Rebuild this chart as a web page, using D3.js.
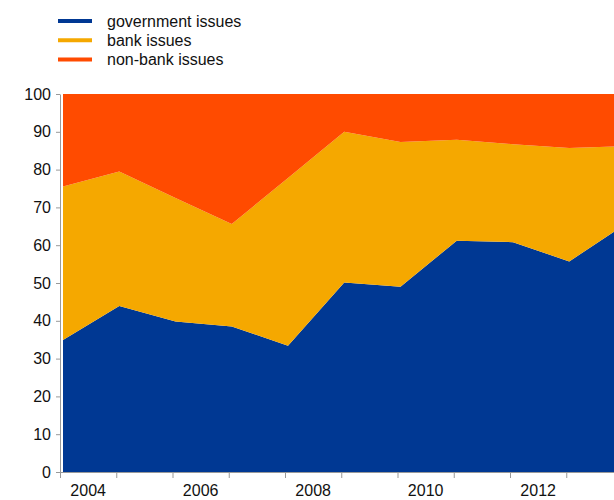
<!DOCTYPE html>
<html>
<head>
<meta charset="utf-8">
<script src="https://cdn.jsdelivr.net/npm/d3@7"></script>
<style>
  html, body { margin: 0; padding: 0; background: #fff; }
  svg { display: block; font-family: "Liberation Sans", Arial, sans-serif; }
</style>
</head>
<body>
<svg id="chart" width="614" height="500"></svg>
<script>
// ---- data ----
const periods = [2004, 2005, 2006, 2007, 2008, 2009, 2010, 2011, 2012, 2013, 2014];
const governmentIssues = [34.9, 43.9, 39.8, 38.5, 33.4, 50.1, 49.0, 61.2, 60.8, 55.7, 65.6];
const bankIssues       = [40.6, 35.6, 32.7, 27.1, 44.4, 39.9, 38.3, 26.7, 25.9, 30.0, 20.6];
const nonBankIssues    = [24.5, 20.5, 27.5, 34.4, 22.2, 10.0, 12.7, 12.1, 13.3, 14.3, 13.8];
const yearLabels = [2004, 2006, 2008, 2010, 2012];
const yTicks = [0, 10, 20, 30, 40, 50, 60, 70, 80, 90, 100];
const seriesNames = ["government issues", "bank issues", "non-bank issues"];
const seriesKeys = ["gov", "bank", "nonbank"];
const colors = ["#003893", "#F5A800", "#FF4B00"];

const rows = periods.map((p, i) => ({
  period: p, gov: governmentIssues[i], bank: bankIssues[i], nonbank: nonBankIssues[i]
}));

const svg = d3.select("#chart");
const plotLeft = 60, plotTop = 94, plotBottom = 472;

const x = d3.scaleLinear().domain([2004, 2014]).range([plotLeft, 622.5]);
const y = d3.scaleLinear().domain([0, 100]).range([plotBottom, plotTop]);

const stacked = d3.stack().keys(seriesKeys)(rows);

const area = d3.area()
  .x(d => x(d.data.period))
  .y0(d => y(d[0]))
  .y1(d => y(d[1]));

svg.append("g")
  .attr("transform", "translate(3,0)")
  .selectAll("path")
  .data(stacked)
  .join("path")
  .attr("d", area)
  .attr("fill", (d, i) => colors[i]);

// y axis
const yAxis = svg.append("g")
  .attr("transform", `translate(${plotLeft},0)`)
  .call(d3.axisLeft(y).tickValues(yTicks).tickSize(4).tickPadding(5).tickSizeOuter(0));
yAxis.select(".domain").attr("stroke", "#999");
yAxis.selectAll(".tick line").attr("stroke", "#999");
yAxis.selectAll(".tick text").attr("font-size", 16).attr("fill", "#111")
  .attr("font-family", "Liberation Sans, Arial, sans-serif");

// x axis
const xAxis = svg.append("g")
  .attr("transform", `translate(0,${plotBottom})`)
  .call(d3.axisBottom(x).tickValues(d3.range(2004, 2015)).tickSize(6).tickFormat("").tickSizeOuter(0));
xAxis.select(".domain").attr("stroke", "#999");
xAxis.selectAll(".tick line").attr("stroke", "#999");

svg.append("g")
  .selectAll("text")
  .data(yearLabels)
  .join("text")
  .attr("x", d => x(d + 0.5))
  .attr("y", 496)
  .attr("text-anchor", "middle")
  .attr("font-size", 16)
  .attr("fill", "#111")
  .text(d => d);

// legend
const legend = svg.append("g");
seriesNames.forEach((name, i) => {
  const cy = 21 + i * 19.3;
  legend.append("line")
    .attr("x1", 58).attr("x2", 92)
    .attr("y1", cy).attr("y2", cy)
    .attr("stroke", colors[i]).attr("stroke-width", 4);
  legend.append("text")
    .attr("x", 107).attr("y", cy + 5.5)
    .attr("font-size", 16).attr("fill", "#111")
    .text(name);
});
</script>
</body>
</html>
